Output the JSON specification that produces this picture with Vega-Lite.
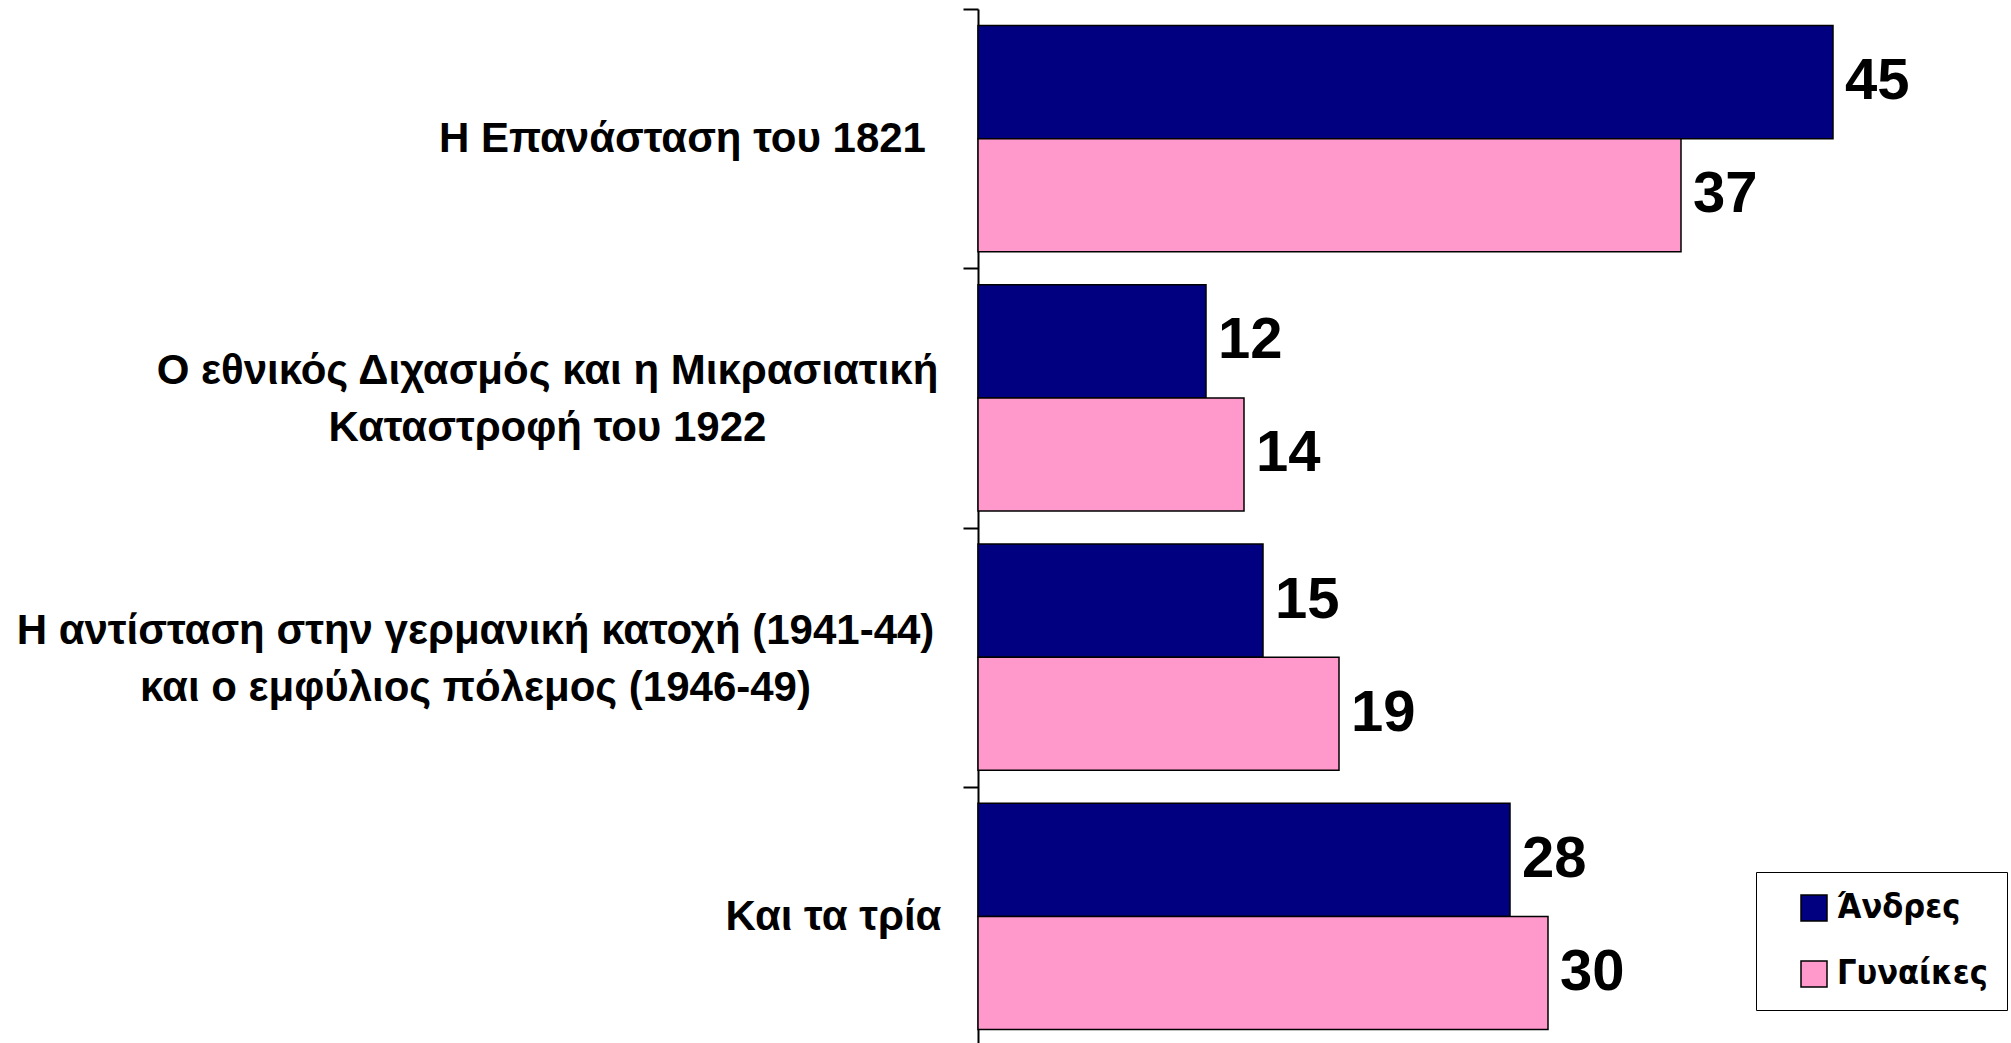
{
  "$schema": "https://vega.github.io/schema/vega-lite/v6.json",
  "width": 1026,
  "height": 1037,
  "autosize": {"type": "none"},
  "padding": {"left": 978, "top": 9, "right": 7, "bottom": 0},
  "background": "white",
  "config": {"view": {"stroke": null}},
  "data": {
    "values": [
      {"cat": "Η Επανάσταση του 1821", "sex": "Άνδρες", "value": 45},
      {"cat": "Η Επανάσταση του 1821", "sex": "Γυναίκες", "value": 37},
      {"cat": "Ο εθνικός Διχασμός και η Μικρασιατική|Καταστροφή  του 1922", "sex": "Άνδρες", "value": 12},
      {"cat": "Ο εθνικός Διχασμός και η Μικρασιατική|Καταστροφή  του 1922", "sex": "Γυναίκες", "value": 14},
      {"cat": "Η αντίσταση στην γερμανική κατοχή (1941-44)|και ο εμφύλιος πόλεμος (1946-49)", "sex": "Άνδρες", "value": 15},
      {"cat": "Η αντίσταση στην γερμανική κατοχή (1941-44)|και ο εμφύλιος πόλεμος (1946-49)", "sex": "Γυναίκες", "value": 19},
      {"cat": "Και τα τρία", "sex": "Άνδρες", "value": 28},
      {"cat": "Και τα τρία", "sex": "Γυναίκες", "value": 30}
    ]
  },
  "encoding": {
    "y": {
      "field": "cat",
      "type": "nominal",
      "sort": null,
      "scale": {"paddingInner": 0, "paddingOuter": 0},
      "axis": {
        "title": null,
        "tickBand": "extent",
        "tickSize": 15,
        "tickWidth": 2,
        "tickColor": "black",
        "domainColor": "black",
        "domainWidth": 2,
        "labelFont": "Liberation Sans",
        "labelFontWeight": "bold",
        "labelFontSize": 42,
        "labelColor": "black",
        "labelLimit": 0,
        "labelAlign": "center",
        "labelExpr": "split(datum.label, '|')",
        "labelLineHeight": 57,
        "labelPadding": {
          "condition": [
            {"test": "indexof('' + (datum ? datum.value : ''), '1821') >= 0", "value": 281},
            {"test": "indexof('' + (datum ? datum.value : ''), '1922') >= 0", "value": 416},
            {"test": "indexof('' + (datum ? datum.value : ''), '1946') >= 0", "value": 488}
          ],
          "value": 130
        },
        "labelOffset": {
          "condition": {"test": "indexof('' + (datum ? datum.value : ''), '|') >= 0", "value": -27},
          "value": 0
        }
      }
    },
    "yOffset": {
      "field": "sex",
      "type": "nominal",
      "sort": ["Άνδρες", "Γυναίκες"],
      "scale": {"paddingInner": 0, "paddingOuter": 0.146}
    }
  },
  "layer": [
    {
      "mark": {"type": "bar", "stroke": "black", "strokeWidth": 1.5},
      "encoding": {
        "x": {"field": "value", "type": "quantitative", "scale": {"domain": [0, 54], "nice": false}, "axis": null},
        "color": {
          "field": "sex",
          "type": "nominal",
          "sort": ["Άνδρες", "Γυναίκες"],
          "scale": {"domain": ["Άνδρες", "Γυναίκες"], "range": ["#000080", "#FF99CC"]},
          "legend": {
            "title": null,
            "orient": "none",
            "legendX": 778,
            "legendY": 863,
            "padding": 19,
            "strokeColor": "black",
            "fillColor": "white",
            "symbolType": "square",
            "symbolSize": 676,
            "symbolStrokeColor": "black",
            "symbolStrokeWidth": 1.5,
            "symbolOffset": 22,
            "labelOffset": 6,
            "labelFont": "DejaVu Sans Condensed",
            "labelFontWeight": "bold",
            "labelFontSize": 34,
            "labelColor": "black",
            "rowPadding": 32
          }
        }
      }
    },
    {
      "mark": {"type": "text", "align": "left", "baseline": "middle", "dx": 12, "font": "Liberation Sans", "fontWeight": "bold", "fontSize": 58, "color": "black"},
      "encoding": {
        "x": {"field": "value", "type": "quantitative"},
        "text": {"field": "value", "type": "quantitative"}
      }
    }
  ]
}
